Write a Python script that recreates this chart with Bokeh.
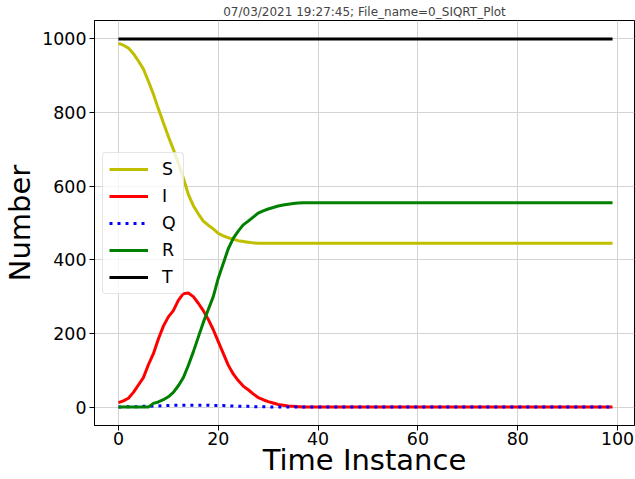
from bokeh.plotting import figure
from bokeh.models import Range1d, FixedTicker
from bokeh.embed import file_html
from bokeh.resources import INLINE

title_text = "07/03/2021 19:27:45; File_name=0_SIQRT_Plot"
x_label = "Time Instance"
y_label = "Number"
x_ticks = [0, 20, 40, 60, 80, 100]
y_ticks = [0, 200, 400, 600, 800, 1000]

t = list(range(100))

S = [988, 983, 975, 960, 940, 918, 885, 850, 810, 772,
     735, 700, 662, 622, 578, 547, 525, 505, 494, 484,
     472, 465, 460, 456, 452, 450, 448, 446, 445, 445,
     445, 445, 445, 445, 445, 445, 445, 445, 445, 445,
     445, 445, 445, 445, 445, 445, 445, 445, 445, 445,
     445, 445, 445, 445, 445, 445, 445, 445, 445, 445,
     445, 445, 445, 445, 445, 445, 445, 445, 445, 445,
     445, 445, 445, 445, 445, 445, 445, 445, 445, 445,
     445, 445, 445, 445, 445, 445, 445, 445, 445, 445,
     445, 445, 445, 445, 445, 445, 445, 445, 445, 445]

I = [12, 17, 24, 40, 60, 80, 115, 145, 185, 220,
     245, 262, 290, 308, 310, 300, 282, 262, 238, 210,
     178, 146, 114, 90, 72, 57, 47, 36, 26, 20,
     15, 11, 7, 5, 3, 2, 1, 0, 0, 0,
     0, 0, 0, 0, 0, 0, 0, 0, 0, 0,
     0, 0, 0, 0, 0, 0, 0, 0, 0, 0,
     0, 0, 0, 0, 0, 0, 0, 0, 0, 0,
     0, 0, 0, 0, 0, 0, 0, 0, 0, 0,
     0, 0, 0, 0, 0, 0, 0, 0, 0, 0,
     0, 0, 0, 0, 0, 0, 0, 0, 0, 0]

Q = [0, 0, 1, 1, 1, 2, 2, 3, 3, 4,
     4, 5, 5, 5, 5, 5, 5, 5, 5, 4,
     4, 4, 3, 3, 2, 2, 2, 1, 1, 1,
     1, 0, 0, 0, 0, 0, 0, 0, 0, 0,
     0, 0, 0, 0, 0, 0, 0, 0, 0, 0,
     0, 0, 0, 0, 0, 0, 0, 0, 0, 0,
     0, 0, 0, 0, 0, 0, 0, 0, 0, 0,
     0, 0, 0, 0, 0, 0, 0, 0, 0, 0,
     0, 0, 0, 0, 0, 0, 0, 0, 0, 0,
     0, 0, 0, 0, 0, 0, 0, 0, 0, 0]

R = [0, 0, 0, 0, 0, 0, 0, 10, 14, 20,
     28, 40, 58, 80, 113, 150, 190, 230, 265, 300,
     350, 390, 430, 458, 478, 495, 505, 516, 527, 533,
     538, 542, 546, 549, 551, 553, 554, 555, 555, 555,
     555, 555, 555, 555, 555, 555, 555, 555, 555, 555,
     555, 555, 555, 555, 555, 555, 555, 555, 555, 555,
     555, 555, 555, 555, 555, 555, 555, 555, 555, 555,
     555, 555, 555, 555, 555, 555, 555, 555, 555, 555,
     555, 555, 555, 555, 555, 555, 555, 555, 555, 555,
     555, 555, 555, 555, 555, 555, 555, 555, 555, 555]

T = [1000] * 100

FONT = "DejaVu Sans"

p = figure(width=635, height=479, output_backend="svg", toolbar_location=None,
           x_range=Range1d(-4.8, 103.4), y_range=Range1d(-50, 1050),
           min_border_left=93, min_border_right=1, min_border_top=20,
           min_border_bottom=54, title=title_text)

p.title.text_font = FONT
p.title.text_font_size = "12px"
p.title.text_font_style = "normal"
p.title.align = "center"
p.title.standoff = 3

p.line(t, S, color="#bfbf00", line_width=3, legend_label="S")
p.line(t, I, color="#ff0000", line_width=3, legend_label="I")
p.line(t, Q, color="#0000ff", line_width=3, line_dash="3 5", legend_label="Q")
p.line(t, R, color="#008000", line_width=3, legend_label="R")
p.line(t, T, color="#000000", line_width=3, legend_label="T")

p.xaxis.ticker = FixedTicker(ticks=x_ticks)
p.yaxis.ticker = FixedTicker(ticks=y_ticks)
p.xaxis.axis_label = x_label
p.yaxis.axis_label = y_label
for ax in (p.xaxis, p.yaxis):
    ax.axis_label_text_font = FONT
    ax.axis_label_text_font_size = "29px"
    ax.axis_label_text_font_style = "normal"
    ax.axis_label_text_color = "black"
    ax.axis_label_standoff = 2
    ax.major_label_text_font = FONT
    ax.major_label_text_font_size = "17.4px"
    ax.major_label_text_color = "black"
    ax.major_label_standoff = 3
    ax.major_tick_in = 0
    ax.major_tick_out = 5
    ax.major_tick_line_color = "black"
    ax.minor_tick_line_color = None
    ax.axis_line_color = "black"
p.xaxis.major_label_standoff = 1
p.xaxis.axis_label_standoff = -5

p.grid.grid_line_color = "#d3d3d3"
p.grid.grid_line_width = 1
p.outline_line_color = "black"
p.outline_line_alpha = 1
p.outline_line_width = 1

lg = p.legend[0]
lg.location = (8, 131)
lg.label_text_font = FONT
lg.label_text_font_size = "17.4px"
lg.label_text_color = "black"
lg.glyph_width = 39
lg.glyph_height = 20
lg.label_height = 20
lg.label_width = 15
lg.spacing = 7
lg.padding = 6
lg.margin = 0
lg.label_standoff = 14
lg.border_line_color = "#cccccc"
lg.border_radius = 4
lg.background_fill_alpha = 0.8

open("out.html", "w").write(file_html(p, INLINE))
